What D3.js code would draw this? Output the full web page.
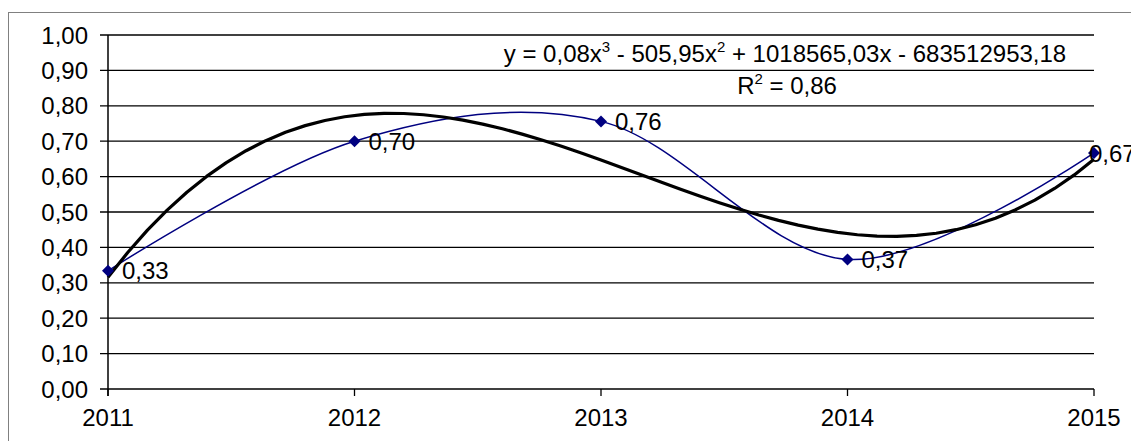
<!DOCTYPE html>
<html>
<head>
<meta charset="utf-8">
<script src="https://cdn.jsdelivr.net/npm/d3@7"></script>
<style>
  body { margin: 0; background: #fff; }
  text { font-family: "Liberation Sans", Arial, sans-serif; fill: #000; }
</style>
</head>
<body>
<svg width="1131" height="441"></svg>
<script>
// data
var years = [2011, 2012, 2013, 2014, 2015];
var values = [0.334, 0.70, 0.756, 0.366, 0.667];
var yTicks = [0, 0.1, 0.2, 0.3, 0.4, 0.5, 0.6, 0.7, 0.8, 0.9, 1.0];
var equationText = ["y = 0,08x", "3", " - 505,95x", "2", " + 1018565,03x - 683512953,18"];
var r2Text = ["R", "2", " = 0,86"];

var svg = d3.select("svg"),
    width = +svg.attr("width"),
    height = +svg.attr("height");

var fs = "24px";
var fmt = function(v) { return d3.format(".2f")(v).replace(".", ","); };

// outer frame
svg.append("rect")
    .attr("x", 8.5).attr("y", 12.5)
    .attr("width", width + 10).attr("height", height + 10)
    .attr("fill", "none").attr("stroke", "#808080").attr("stroke-width", 1);

var x = d3.scaleLinear().domain([2011, 2015]).range([108, 1094]);
var y = d3.scaleLinear().domain([0, 1]).range([389, 35]);

// horizontal grid
svg.append("g").selectAll("line")
    .data(yTicks)
    .enter().append("line")
    .attr("x1", 100).attr("x2", x(2015))
    .attr("y1", function(d) { return y(d); })
    .attr("y2", function(d) { return y(d); })
    .attr("stroke", "#000").attr("stroke-width", 1.3);

// y labels
svg.append("g").selectAll("text")
    .data(yTicks)
    .enter().append("text")
    .attr("x", 88)
    .attr("y", function(d) { return y(d); })
    .attr("dy", "0.36em")
    .attr("text-anchor", "end")
    .style("font-size", fs)
    .text(fmt);

// y axis line
svg.append("line")
    .attr("x1", x(2011)).attr("x2", x(2011))
    .attr("y1", y(1)).attr("y2", y(0) + 7)
    .attr("stroke", "#000").attr("stroke-width", 1.5);

// x ticks & labels
var xg = svg.append("g").selectAll("g")
    .data(years)
    .enter().append("g");
xg.append("line")
    .attr("x1", function(d) { return x(d); })
    .attr("x2", function(d) { return x(d); })
    .attr("y1", y(0)).attr("y2", y(0) + 7)
    .attr("stroke", "#000").attr("stroke-width", 1.3);
xg.append("text")
    .attr("x", function(d) { return x(d); })
    .attr("y", 426)
    .attr("text-anchor", "middle")
    .style("font-size", fs)
    .text(function(d) { return d; });

// cubic least-squares trend (same as the chart's polynomial trendline)
function polyFit(xs, ys, deg) {
    var n = deg + 1, A = [], b = [];
    for (var i = 0; i < n; i++) {
        A.push([]);
        b.push(d3.sum(xs, function(xv, k) { return Math.pow(xv, i) * ys[k]; }));
        for (var j = 0; j < n; j++) {
            A[i].push(d3.sum(xs, function(xv) { return Math.pow(xv, i + j); }));
        }
    }
    for (var c = 0; c < n; c++) {
        for (var r = c + 1; r < n; r++) {
            var f = A[r][c] / A[c][c];
            for (var k = c; k < n; k++) A[r][k] -= f * A[c][k];
            b[r] -= f * b[c];
        }
    }
    var coef = new Array(n);
    for (var r2 = n - 1; r2 >= 0; r2--) {
        var s = b[r2];
        for (var k2 = r2 + 1; k2 < n; k2++) s -= A[r2][k2] * coef[k2];
        coef[r2] = s / A[r2][r2];
    }
    return coef;
}
var xs = years.map(function(d) { return d - 2011; });
var coef = polyFit(xs, values, 3);
var trend = d3.range(0, 4.0001, 0.08).map(function(t) {
    return [2011 + t, coef[0] + coef[1] * t + coef[2] * t * t + coef[3] * t * t * t];
});

// series line (smoothed)
var pts = years.map(function(d, i) { return [d, values[i]]; });
svg.append("path")
    .datum(pts)
    .attr("fill", "none")
    .attr("stroke", "#000080")
    .attr("stroke-width", 1.5)
    .attr("d", d3.line()
        .x(function(d) { return x(d[0]); })
        .y(function(d) { return y(d[1]); })
        .curve(d3.curveCardinal.tension(0)));

// trendline
svg.append("path")
    .datum(trend)
    .attr("fill", "none")
    .attr("stroke", "#000")
    .attr("stroke-width", 3.2)
    .attr("stroke-linejoin", "round")
    .attr("d", d3.line()
        .x(function(d) { return x(d[0]); })
        .y(function(d) { return y(d[1]); }));

// markers
svg.append("g").selectAll("path")
    .data(pts)
    .enter().append("path")
    .attr("transform", function(d) { return "translate(" + x(d[0]) + "," + y(d[1]) + ")"; })
    .attr("d", "M0,-6L6,0L0,6L-6,0Z")
    .attr("fill", "#000080");

// data labels (last one pushed left like in the original, still clipped at the edge)
svg.append("g").selectAll("text")
    .data(pts)
    .enter().append("text")
    .attr("x", function(d) { return Math.min(x(d[0]) + 14, 1089); })
    .attr("y", function(d) { return y(d[1]); })
    .attr("dy", "0.36em")
    .style("font-size", fs)
    .text(function(d) { return fmt(d[1]); });

// equation
function richText(parts, cx, cy) {
    var t = svg.append("text")
        .attr("x", cx).attr("y", cy)
        .attr("text-anchor", "middle")
        .style("font-size", fs);
    parts.forEach(function(p, i) {
        var s = t.append("tspan").text(p);
        if (i % 2 === 1) s.attr("dy", -10).style("font-size", "15px");
        else if (i > 0) s.attr("dy", 10);
    });
}
richText(equationText, 785, 62);
richText(r2Text, 787, 94);
</script>
</body>
</html>
